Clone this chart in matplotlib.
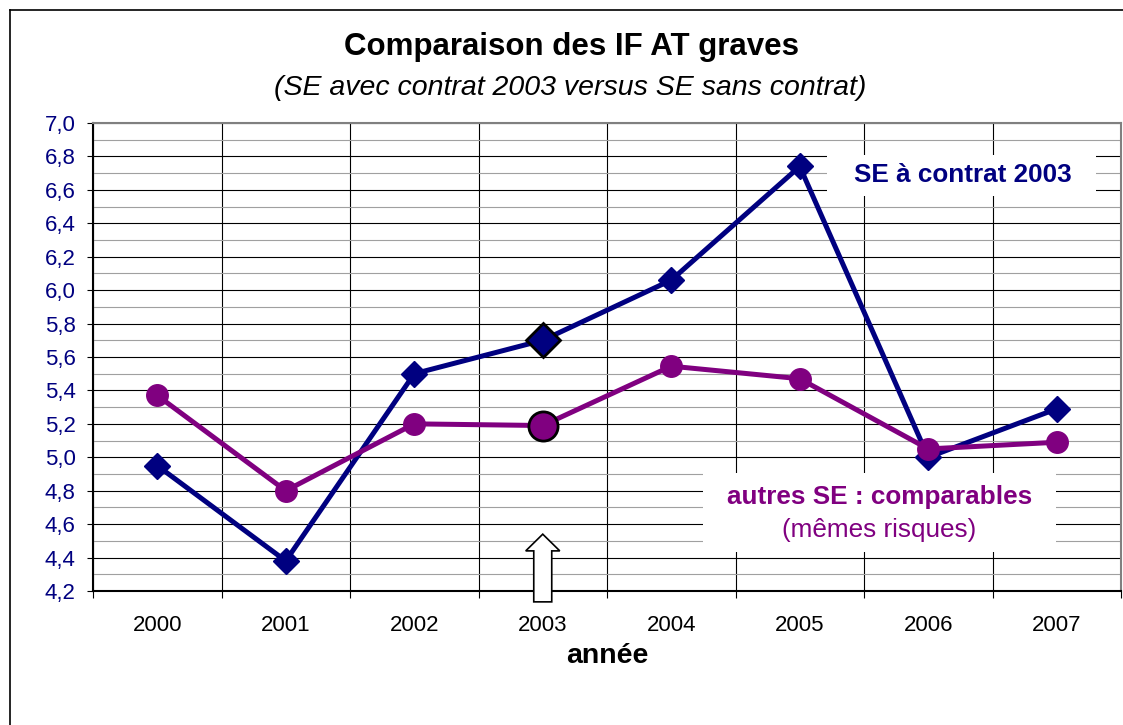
#!/usr/bin/env python3
import matplotlib
matplotlib.use('Agg')
import matplotlib.pyplot as plt
from matplotlib.lines import Line2D
from matplotlib.patches import Rectangle, FancyArrow
from matplotlib.ticker import MultipleLocator, FuncFormatter, FixedLocator

years = ['2000', '2001', '2002', '2003', '2004', '2005', '2006', '2007']
se_contrat = [4.95, 4.38, 5.50, 5.70, 6.06, 6.74, 5.00, 5.29]
se_autres = [5.37, 4.80, 5.20, 5.19, 5.545, 5.47, 5.05, 5.09]
highlight = 3  # contract year 2003

NAVY = '#000080'
PURPLE = '#800080'


def comma(v, pos):
    return ('%.1f' % v).replace('.', ',')


def main():
    plt.rcParams['font.family'] = ['Liberation Sans', 'DejaVu Sans']
    fig = plt.figure(figsize=(11.23, 7.25), dpi=100)
    ax = fig.add_axes([93 / 1123, 1 - 591 / 725, 1028 / 1123, 468 / 725])

    x = list(range(len(years)))
    ax.set_xlim(-0.5, len(years) - 0.5)
    ax.set_ylim(4.2, 7.0)

    # grid: black every 0.2, grey every 0.1, vertical lines between years
    ax.yaxis.set_major_locator(MultipleLocator(0.2))
    ax.yaxis.set_minor_locator(MultipleLocator(0.1))
    ax.yaxis.set_major_formatter(FuncFormatter(comma))
    ax.xaxis.set_major_locator(FixedLocator([i - 0.5 for i in range(len(years) + 1)]))
    ax.xaxis.set_major_formatter(FuncFormatter(lambda v, p: ''))
    ax.set_xticks(x, minor=True)
    ax.set_xticklabels(years, minor=True)
    ax.set_axisbelow(True)
    ax.grid(axis='y', which='major', color='black', lw=0.8)
    ax.grid(axis='y', which='minor', color='#a0a0a0', lw=0.8)
    ax.grid(axis='x', which='major', color='black', lw=0.8)

    ax.tick_params(axis='y', which='major', length=4.5, width=0.8,
                   labelsize=16, labelcolor=NAVY, pad=8)
    ax.tick_params(axis='y', which='minor', length=0)
    ax.tick_params(axis='x', which='major', length=5, width=0.8)
    ax.tick_params(axis='x', which='minor', length=0, labelsize=16, pad=17)

    for side in ('left', 'bottom'):
        ax.spines[side].set_color('black')
        ax.spines[side].set_linewidth(1.5)
    for side in ('top', 'right'):
        ax.spines[side].set_color('#808080')
        ax.spines[side].set_linewidth(1.5)

    ax.set_xlabel('année', fontsize=20.5, fontweight='bold', labelpad=5)

    # series
    ax.plot(x, se_contrat, color=NAVY, lw=3.6, marker='D', ms=13,
            zorder=3)
    ax.plot(x, se_autres, color=PURPLE, lw=3.6, marker='o', ms=15.5,
            zorder=4)
    ax.plot(x[highlight], se_contrat[highlight], marker='D', ms=17,
            color=NAVY, mec='black', mew=2, zorder=5)
    ax.plot(x[highlight], se_autres[highlight], marker='o', ms=21,
            color=PURPLE, mec='black', mew=2, zorder=5)

    # label boxes hiding the grid
    ax.add_patch(Rectangle((0.714, 0.844), 0.262, 0.088, transform=ax.transAxes,
                           facecolor='white', edgecolor='none', zorder=1))
    ax.text(0.846, 0.888, 'SE à contrat 2003', transform=ax.transAxes,
            ha='center', va='center', fontsize=18.8, fontweight='bold',
            color=NAVY, zorder=6)
    ax.add_patch(Rectangle((0.593, 0.083), 0.344, 0.169, transform=ax.transAxes,
                           facecolor='white', edgecolor='none', zorder=1))
    ax.text(0.765, 0.200, 'autres SE : comparables', transform=ax.transAxes,
            ha='center', va='center', fontsize=18.8, fontweight='bold',
            color=PURPLE, zorder=6)
    ax.text(0.765, 0.130, '(mêmes risques)', transform=ax.transAxes,
            ha='center', va='center', fontsize=18.8, color=PURPLE, zorder=6)

    # arrow pointing at 2003
    arrow = FancyArrow(x[highlight], 4.135, 0, 0.405, width=0.14,
                       head_width=0.265, head_length=0.10,
                       length_includes_head=True, facecolor='white',
                       edgecolor='black', lw=1.2, clip_on=False, zorder=6)
    ax.add_patch(arrow)

    fig.text(572 / 1123, 1 - 47 / 725, 'Comparaison des IF AT graves',
             ha='center', va='center', fontsize=22.5, fontweight='bold')
    fig.text(570 / 1123, 1 - 88 / 725,
             '(SE avec contrat 2003 versus SE sans contrat)',
             ha='center', va='center', fontsize=20.5, style='italic')

    # outer chart frame
    fig.add_artist(Line2D([10 / 1123, 10 / 1123], [0, 1 - 9.5 / 725],
                          transform=fig.transFigure, color='black', lw=1.2))
    fig.add_artist(Line2D([10 / 1123, 1], [1 - 9.5 / 725, 1 - 9.5 / 725],
                          transform=fig.transFigure, color='black', lw=1.2))

    fig.savefig('out.png', dpi=100)


if __name__ == "__main__":
    main()
